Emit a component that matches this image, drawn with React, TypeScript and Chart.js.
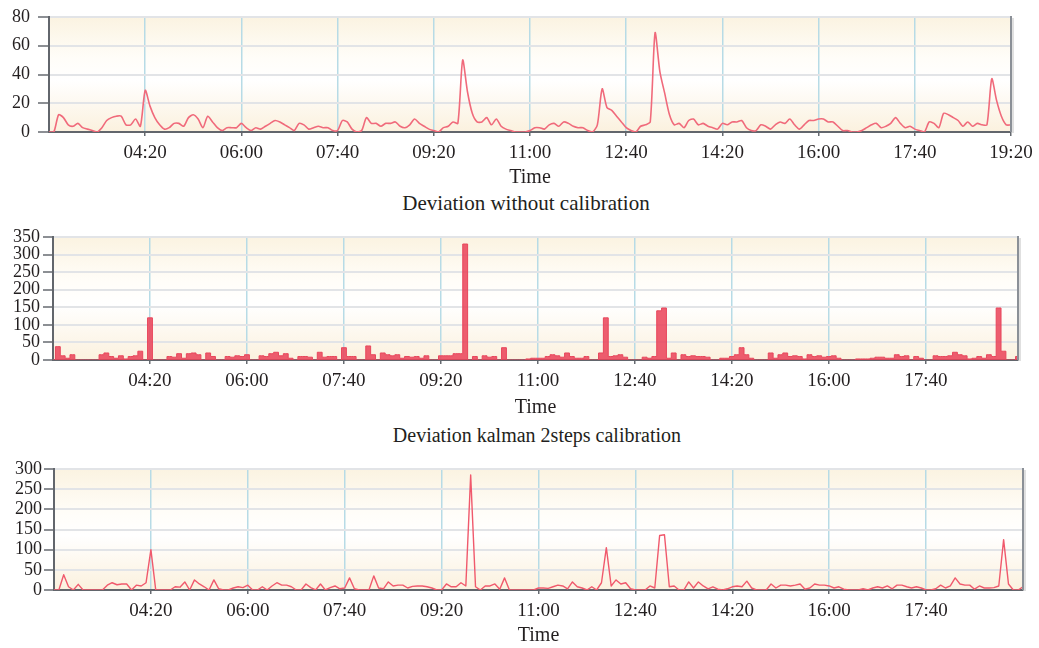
import React, { useEffect, useRef } from 'react';
import { Chart, registerables } from 'chart.js';

Chart.register(...registerables);

// x values are minutes after 02:40, sampled every 5 minutes
const STEP_MIN = 5;
const xTickMinutes = [100, 200, 300, 400, 500, 600, 700, 800, 900, 1000];
const xTickLabels = ['04:20', '06:00', '07:40', '09:20', '11:00', '12:40', '14:20', '16:00', '17:40', '19:20'];

const yTicks1 = [0, 20, 40, 60, 80];
const yTicks2 = [0, 50, 100, 150, 200, 250, 300, 350];
const yTicks3 = [0, 50, 100, 150, 200, 250, 300];

const titleTop = 'Deviation without calibration';
const titleMid = 'Deviation kalman 2steps calibration';
const axisTitle = 'Time';

// Chart 1: deviation (no calibration), line
const devRaw = [
  0, 0, 12, 10, 5, 4, 6, 3, 2, 1,
  0, 3, 8, 10, 11, 11, 5, 5, 9, 4,
  29, 18, 10, 5, 2, 3, 6, 6, 4, 10,
  12, 9, 3, 11, 7, 3, 1, 3, 3, 3,
  6, 3, 1, 3, 2, 4, 6, 8, 7, 5,
  3, 1, 6, 5, 2, 3, 4, 3, 3, 1,
  1, 8, 7, 2, 0, 1, 10, 6, 6, 4,
  6, 6, 7, 4, 3, 5, 9, 6, 4, 2,
  1, 0, 3, 4, 7, 6, 50, 28, 13, 7,
  7, 10, 5, 9, 4, 2, 1, 0, 0, 0,
  1, 3, 3, 2, 5, 6, 4, 7, 6, 4,
  3, 3, 1, 0, 5, 30, 17, 15, 11, 7,
  3, 1, 0, 4, 5, 7, 69, 42, 27, 12,
  5, 6, 3, 8, 9, 5, 6, 4, 3, 2,
  6, 5, 7, 7, 8, 3, 1, 1, 5, 4,
  2, 5, 7, 6, 9, 5, 2, 5, 8, 8,
  9, 9, 7, 7, 4, 1, 1, 0, 0, 1,
  3, 5, 6, 3, 4, 6, 10, 6, 3, 4,
  2, 1, 0, 7, 6, 3, 13, 12, 10, 8,
  4, 7, 4, 6, 5, 5, 37, 22, 11, 5,
  5,
];

// Chart 2: deviation, kalman 2 steps calibration (filled spikes)
const devKalman2 = [
  0, 38, 12, 5, 15, 0, 0, 0, 0, 0,
  15, 20, 10, 5, 12, 3, 10, 12, 25, 0,
  120, 0, 0, 0, 10, 8, 18, 5, 18, 20,
  15, 0, 20, 10, 0, 0, 10, 8, 12, 10,
  15, 0, 0, 12, 10, 18, 22, 12, 18, 5,
  0, 10, 10, 8, 0, 22, 8, 10, 10, 0,
  35, 10, 10, 0, 0, 40, 15, 0, 20, 15,
  12, 15, 5, 10, 8, 10, 5, 12, 0, 0,
  12, 12, 12, 18, 18, 330, 0, 10, 0, 12,
  8, 10, 0, 35, 0, 0, 0, 0, 3, 5,
  5, 5, 10, 15, 12, 8, 20, 10, 5, 5,
  10, 0, 0, 20, 120, 10, 12, 15, 8, 0,
  0, 0, 8, 5, 10, 140, 148, 5, 20, 0,
  15, 10, 12, 10, 10, 8, 0, 0, 5, 5,
  10, 15, 35, 15, 5, 0, 0, 0, 20, 5,
  15, 20, 10, 12, 10, 3, 15, 10, 12, 8,
  10, 12, 5, 0, 0, 0, 3, 3, 3, 5,
  8, 8, 5, 5, 15, 10, 12, 0, 10, 5,
  0, 0, 12, 10, 10, 12, 22, 15, 12, 3,
  5, 10, 5, 15, 10, 148, 25, 0, 0, 10,
];

// Chart 3: deviation after calibration (line)
const devCalib = [
  0, 0, 38, 8, 0, 14, 0, 0, 0, 0,
  0, 12, 18, 13, 15, 15, 0, 12, 10, 18,
  100, 0, 0, 0, 0, 8, 7, 20, 0, 25,
  15, 8, 0, 25, 3, 0, 0, 5, 8, 6,
  12, 0, 0, 8, 0, 10, 18, 12, 12, 8,
  0, 0, 15, 6, 0, 15, 0, 6, 10, 3,
  5, 30, 3, 0, 0, 0, 35, 5, 3, 20,
  10, 12, 12, 5, 9, 10, 10, 8, 5, 0,
  0, 15, 8, 8, 18, 10, 285, 8, 0, 10,
  10, 15, 2, 30, 0, 0, 0, 0, 0, 0,
  5, 5, 4, 8, 12, 10, 3, 20, 8, 5,
  0, 8, 0, 18, 105, 10, 25, 15, 18, 3,
  0, 0, 0, 10, 5, 135, 137, 8, 10, 0,
  0, 20, 5, 20, 10, 3, 8, 2, 0, 3,
  8, 10, 8, 22, 5, 0, 0, 0, 15, 5,
  12, 12, 10, 12, 15, 2, 5, 15, 12, 12,
  10, 5, 8, 2, 0, 0, 0, 3, 0, 5,
  8, 5, 10, 3, 12, 12, 8, 5, 8, 5,
  0, 0, 3, 12, 5, 10, 30, 15, 12, 12,
  2, 10, 5, 5, 6, 10, 125, 15, 0, 0,
  8,
];

const SERIF = "'Liberation Serif', 'Times New Roman', serif";
const TEXT = '#231f20';

const framePlugin = {
  id: 'frame',
  beforeDraw(chart: any) {
    const { ctx, chartArea: a } = chart;
    const g = ctx.createLinearGradient(0, a.top, 0, a.bottom);
    g.addColorStop(0, '#fbf3e1');
    g.addColorStop(0.35, '#fffdf8');
    g.addColorStop(0.55, '#ffffff');
    g.addColorStop(1, '#fbf1de');
    ctx.save();
    ctx.fillStyle = g;
    ctx.fillRect(a.left, a.top, a.right - a.left, a.bottom - a.top);
    ctx.restore();
  },
  afterDraw(chart: any) {
    const { ctx, chartArea: a } = chart;
    ctx.save();
    ctx.strokeStyle = 'rgba(0,0,0,0.12)';
    ctx.lineWidth = 2;
    ctx.beginPath();
    ctx.moveTo(a.right + 2, a.top + 1);
    ctx.lineTo(a.right + 2, a.bottom + 1);
    ctx.stroke();
    ctx.strokeStyle = '#8b9097';
    ctx.lineWidth = 2;
    ctx.beginPath();
    ctx.moveTo(a.right, a.top - 1);
    ctx.lineTo(a.right, a.bottom);
    ctx.stroke();
    ctx.restore();
  },
};

type PanelSpec = {
  top: number;
  height: number;
  plotLeft: number;
  plotRight: number;
  plotTop: number;
  xHeight: number;
  xMax: number;
  xTicks: number[];
  yTicks: number[];
  yTickLen: number;
  yPad: number;
  values: number[];
  kind: 'line' | 'spikes' | 'thin';
};

function buildConfig(p: PanelSpec): any {
  const W = 1039;
  const points = p.values.map((v, i) => ({ x: i * STEP_MIN, y: v }));
  const ds: any = {
    data: points,
    pointRadius: 0,
    pointHoverRadius: 0,
    borderJoinStyle: 'round',
  };
  if (p.kind === 'line') {
    Object.assign(ds, { borderColor: '#f06a7b', borderWidth: 1.6, tension: 0.25, fill: false });
  } else if (p.kind === 'spikes') {
    Object.assign(ds, {
      borderColor: '#e8465c',
      borderWidth: 1,
      stepped: 'middle',
      fill: 'origin',
      backgroundColor: 'rgba(234, 66, 88, 0.85)',
    });
  } else {
    Object.assign(ds, { borderColor: '#f0596c', borderWidth: 1.4, tension: 0, fill: false });
  }
  const yMax = p.yTicks[p.yTicks.length - 1];
  return {
    type: 'line',
    data: { datasets: [ds] },
    plugins: [framePlugin],
    options: {
      responsive: false,
      animation: false,
      events: [],
      layout: {
        padding: {
          left: 0,
          top: p.plotTop,
          right: W - p.plotRight,
          bottom: 0,
        },
      },
      plugins: {
        legend: { display: false },
        tooltip: { enabled: false },
        title: { display: false },
      },
      scales: {
        x: {
          type: 'linear',
          min: 0,
          max: p.xMax,
          afterBuildTicks: (s: any) => {
            s.ticks = p.xTicks.map((v) => ({ value: v }));
          },
          afterFit: (s: any) => {
            s.height = p.xHeight;
          },
          ticks: {
            autoSkip: false,
            maxRotation: 0,
            minRotation: 0,
            padding: 6,
            color: TEXT,
            font: { family: SERIF, size: 19, lineHeight: 1.2 },
            callback: (_v: any, i: number) => xTickLabels[i],
          },
          grid: {
            color: '#b7dbe6',
            lineWidth: 1.5,
            drawTicks: true,
            tickLength: 4,
            tickColor: '#666a70',
            tickWidth: 1.5,
          },
          border: { display: true, color: '#62666c', width: 2 },
          title: {
            display: true,
            text: axisTitle,
            color: TEXT,
            font: { family: SERIF, size: 20, lineHeight: 1.2 },
            padding: 0,
          },
        },
        y: {
          type: 'linear',
          min: 0,
          max: yMax,
          afterBuildTicks: (s: any) => {
            s.ticks = p.yTicks.map((v) => ({ value: v }));
          },
          afterFit: (s: any) => {
            s.width = p.plotLeft;
          },
          ticks: {
            autoSkip: false,
            padding: p.yPad,
            color: TEXT,
            font: { family: SERIF, size: 18, lineHeight: 1 },
            callback: (v: any) => String(v),
          },
          grid: {
            color: '#e2e4e7',
            lineWidth: 2,
            drawTicks: true,
            tickLength: p.yTickLen,
            tickColor: '#666a70',
            tickWidth: 1.5,
          },
          border: { display: true, color: '#62666c', width: 2 },
        },
      },
    },
  };
}

const panels: PanelSpec[] = [
  {
    top: 0, height: 190, plotLeft: 49, plotRight: 1011, plotTop: 14, xHeight: 58,
    xMax: 1000, xTicks: xTickMinutes, yTicks: yTicks1, yTickLen: 11, yPad: 8,
    values: devRaw, kind: 'line',
  },
  {
    top: 215, height: 205, plotLeft: 53, plotRight: 1018, plotTop: 22, xHeight: 60,
    xMax: 995, xTicks: xTickMinutes.slice(0, 9), yTicks: yTicks2, yTickLen: 10, yPad: 3,
    values: devKalman2, kind: 'spikes',
  },
  {
    top: 445, height: 203, plotLeft: 54, plotRight: 1023, plotTop: 24, xHeight: 58,
    xMax: 1000, xTicks: xTickMinutes.slice(0, 9), yTicks: yTicks3, yTickLen: 10, yPad: 2,
    values: devCalib, kind: 'thin',
  },
];

function Panel({ spec }: { spec: PanelSpec }) {
  const ref = useRef<HTMLCanvasElement | null>(null);
  useEffect(() => {
    if (!ref.current) return;
    const chart = new Chart(ref.current, buildConfig(spec));
    return () => chart.destroy();
  }, [spec]);
  return (
    <canvas
      ref={ref}
      width={1039}
      height={spec.height}
      style={{ position: 'absolute', left: 0, top: spec.top, width: 1039, height: spec.height, display: 'block' }}
    />
  );
}

function Caption({ text, cx, cy, size }: { text: string; cx: number; cy: number; size: number }) {
  return (
    <div
      style={{
        position: 'absolute',
        left: cx - 300,
        top: cy - 12,
        width: 600,
        height: 24,
        lineHeight: '24px',
        textAlign: 'center',
        fontFamily: SERIF,
        fontSize: size,
        color: TEXT,
        whiteSpace: 'nowrap',
      }}
    >
      {text}
    </div>
  );
}

export default function App() {
  return (
    <div style={{ position: 'fixed', left: 0, top: 0, width: 1039, height: 648, background: '#ffffff', overflow: 'hidden' }}>
      <Panel spec={panels[0]} />
      <Caption text={titleTop} cx={526} cy={203} size={21} />
      <Panel spec={panels[1]} />
      <Caption text={titleMid} cx={537} cy={435} size={20} />
      <Panel spec={panels[2]} />
    </div>
  );
}
